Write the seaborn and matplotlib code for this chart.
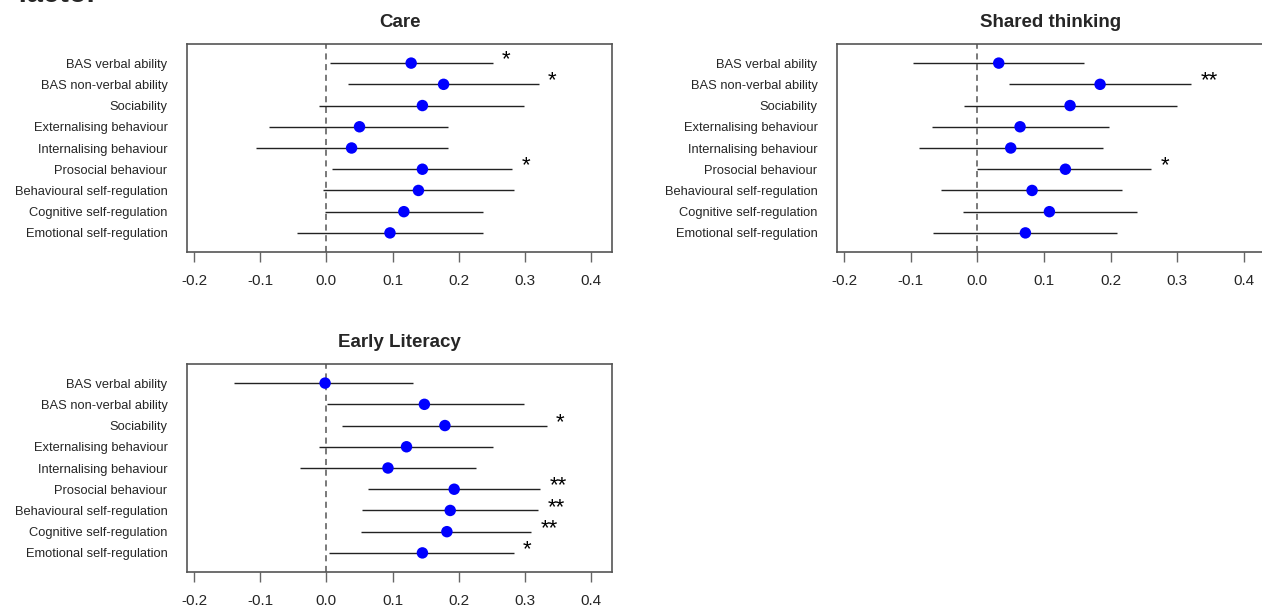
import numpy as np
import pandas as pd
import matplotlib
matplotlib.use("Agg")
import matplotlib.pyplot as plt
import seaborn as sns

predictors = ["BAS verbal ability", "BAS non-verbal ability", "Sociability",
              "Externalising behaviour", "Internalising behaviour", "Prosocial behaviour",
              "Behavioural self-regulation", "Cognitive self-regulation", "Emotional self-regulation"]

outcomes = ["Care", "Shared thinking", "Early Literacy"]

care_est = [0.128, 0.177, 0.145, 0.050, 0.038, 0.145, 0.139, 0.117, 0.096]
care_lo = [0.006, 0.032, -0.011, -0.086, -0.106, 0.008, -0.005, -0.002, -0.045]
care_hi = [0.252, 0.321, 0.298, 0.184, 0.183, 0.281, 0.283, 0.237, 0.237]
care_sig = ["*", "*", "", "", "", "*", "", "", ""]

shared_est = [0.032, 0.184, 0.139, 0.064, 0.050, 0.132, 0.082, 0.108, 0.072]
shared_lo = [-0.096, 0.047, -0.020, -0.068, -0.088, 0.000, -0.054, -0.021, -0.067]
shared_hi = [0.160, 0.320, 0.299, 0.197, 0.188, 0.261, 0.217, 0.240, 0.210]
shared_sig = ["", "**", "", "", "", "*", "", "", ""]

lit_est = [-0.002, 0.148, 0.179, 0.121, 0.093, 0.193, 0.187, 0.182, 0.145]
lit_lo = [-0.139, 0.001, 0.024, -0.011, -0.040, 0.063, 0.054, 0.052, 0.004]
lit_hi = [0.131, 0.298, 0.333, 0.251, 0.226, 0.322, 0.320, 0.309, 0.283]
lit_sig = ["", "", "*", "", "", "**", "**", "**", "*"]

x_ticks = [-0.2, -0.1, 0.0, 0.1, 0.2, 0.3, 0.4]
x_ticklabels = ["-0.2", "-0.1", "0.0", "0.1", "0.2", "0.3", "0.4"]

frames = []
for name, est, lo, hi, sig in [("Care", care_est, care_lo, care_hi, care_sig),
                               ("Shared thinking", shared_est, shared_lo, shared_hi, shared_sig),
                               ("Early Literacy", lit_est, lit_lo, lit_hi, lit_sig)]:
    frames.append(pd.DataFrame({"outcome": name, "predictor": predictors,
                                "pos": np.arange(len(predictors)),
                                "est": est, "lo": lo, "hi": hi, "sig": sig}))
df = pd.concat(frames, ignore_index=True)

sns.set_style("white")
plt.rcParams["font.family"] = ["Liberation Sans", "DejaVu Sans"]

W, H = 1262, 610
fig = plt.figure(figsize=(W / 100, H / 100), dpi=100)

boxes = {
    "Care": (187, 44),
    "Shared thinking": (837, 44),
    "Early Literacy": (187, 364),
}
bw, bh = 425, 208

for name in outcomes:
    lx, ty = boxes[name]
    ax = fig.add_axes([lx / W, 1 - (ty + bh) / H, (bw + (3 if name == "Shared thinking" else 0)) / W, bh / H])
    sub = df[df["outcome"] == name]
    ax.axvline(0, color="#555555", lw=1.1, ls=(0, (4, 3)), zorder=1)
    ax.hlines(sub["pos"], sub["lo"], sub["hi"], color="#222222", lw=1.0, zorder=2)
    sns.scatterplot(data=sub, x="est", y="pos", ax=ax, color="#0000FF", s=68,
                    edgecolor="none", zorder=3, legend=False)
    for _, r in sub.iterrows():
        if r["sig"]:
            off = 0.02 if len(r["sig"]) == 1 else 0.028
            ax.text(r["hi"] + off, r["pos"] - 0.15, r["sig"], ha="center", va="center",
                    fontsize=16, color="black")
    ax.set_xlim(-0.2106, 0.4314)
    ax.set_ylim(8.9, -0.9)
    ax.set_yticks(np.arange(len(predictors)))
    ax.set_yticklabels(predictors, fontsize=9.3)
    ax.set_xticks(x_ticks)
    ax.set_xticklabels(x_ticklabels, fontsize=11)
    ax.tick_params(axis="y", length=0, pad=14)
    ax.tick_params(axis="x", length=7, width=1, color="#666666", pad=9, bottom=True)
    ax.set_xlabel("")
    ax.set_ylabel("")
    for sp in ax.spines.values():
        sp.set_visible(True)
        sp.set_color("#555555")
        sp.set_linewidth(1.2)
    ax.set_title(name, fontsize=13.5, fontweight="bold", pad=12)

fig.text(17 / W, 1 - 2 / H, "factor", fontsize=21, fontweight="bold", ha="left", va="baseline")

fig.savefig("out.png", dpi=100)
